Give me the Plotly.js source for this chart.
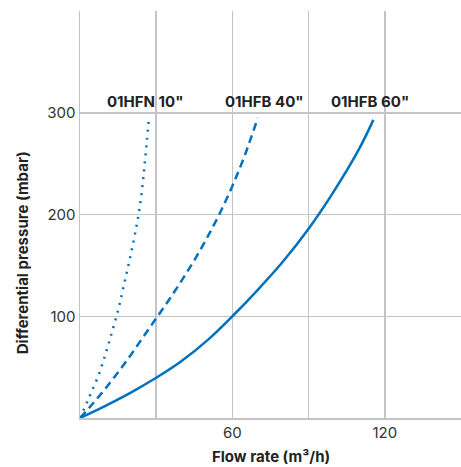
<!DOCTYPE html>
<html><head><meta charset="utf-8">
<script src="https://cdn.plot.ly/plotly-3.0.1.min.js"></script>
<style>html,body{margin:0;padding:0;background:#fff}#chart{width:461px;height:467px}</style>
</head><body><div id="chart"></div>
<script>
// Series: flow rate (m3/h) vs differential pressure (mbar)
const hfn10_flow = [0, 2.5, 4.4, 7.3, 10.3, 13.0, 15.4, 17.5, 19.5, 21.5, 23.2, 24.5, 25.45, 26.35, 27.2];
const hfn10_dp   = [0, 14, 25, 42, 65, 88, 110, 133, 155, 179, 202, 226, 249, 273, 296];
const hfb40_flow = [0, 5, 10, 15, 20, 25, 30, 35, 40, 45, 50, 55, 60, 65, 70];
const hfb40_dp   = [0, 14, 29, 45, 62, 80, 98, 116, 135, 155, 177, 201, 228, 259, 295];
const hfb60_flow = [0, 10, 20, 30, 40, 50, 60, 70, 80, 90, 100, 110, 115.5];
const hfb60_dp   = [0, 12, 25, 39.5, 56, 76, 100, 126, 154, 186, 223, 265, 293];
const seriesNames = ['01HFN 10"', '01HFB 40"', '01HFB 60"'];
const labelX = [25.5, 72.8, 114.1];
const labelY = [311, 311, 311];
const xTickVals = [30, 60, 90, 120];
const xTickText = ['', '60', '', '120'];
const yTickVals = [100, 200, 300, 400];
const yTickText = ['100', '200', '300', ''];
const xTitle = 'Flow rate (m³/h)';
const yTitle = 'Differential pressure (mbar)';

const blue = '#0071bc';
const grid = '#c4c4c4';
const fam = 'Inter, Roboto, sans-serif';
const traces = [
  {x: hfn10_flow, y: hfn10_dp, mode: 'lines', line: {color: blue, width: 2.5, dash: '2px,6px', shape: 'spline', smoothing: 1}, name: seriesNames[0]},
  {x: hfb40_flow, y: hfb40_dp, mode: 'lines', line: {color: blue, width: 2.5, dash: '8px,5px', shape: 'spline', smoothing: 1}, name: seriesNames[1]},
  {x: hfb60_flow, y: hfb60_dp, mode: 'lines', line: {color: blue, width: 2.5, shape: 'spline', smoothing: 1}, name: seriesNames[2]}
];
const annotations = seriesNames.map((t, i) => ({
  x: labelX[i], y: labelY[i], xref: 'x', yref: 'y', text: '<b>' + t + '</b>', showarrow: false,
  font: {family: fam, size: 15, color: '#222'}, xanchor: 'center', yanchor: 'middle'
}));
annotations.push({x: 0.5, y: -0.094, xref: 'paper', yref: 'paper', text: '<b>' + xTitle + '</b>', showarrow: false,
  font: {family: fam, size: 15, color: '#222'}, xanchor: 'center', yanchor: 'middle'});
annotations.push({x: -0.152, y: 0.405, xref: 'paper', yref: 'paper', text: '<b>' + yTitle + '</b>', showarrow: false, textangle: -90,
  font: {family: fam, size: 15, color: '#222'}, xanchor: 'center', yanchor: 'middle'});
const layout = {
  width: 461, height: 467,
  margin: {l: 80, r: 0, t: 11, b: 49},
  showlegend: false,
  paper_bgcolor: '#fff', plot_bgcolor: '#fff',
  font: {family: fam, size: 15, color: '#333'},
  xaxis: {
    range: [0, 150], tickmode: 'array', tickvals: xTickVals, ticktext: xTickText,
    showgrid: true, gridcolor: grid, gridwidth: 1.5, zeroline: false,
    showline: true, linecolor: grid, linewidth: 1.5, ticks: '',
    fixedrange: true
  },
  yaxis: {
    range: [0, 400], tickmode: 'array', tickvals: yTickVals, ticktext: yTickText,
    showgrid: true, gridcolor: grid, gridwidth: 1.5, zeroline: false,
    showline: true, linecolor: grid, linewidth: 1.5, ticks: '',
    fixedrange: true
  },
  annotations: annotations
};
Plotly.newPlot('chart', traces, layout, {displayModeBar: false, staticPlot: true});
</script></body></html>
